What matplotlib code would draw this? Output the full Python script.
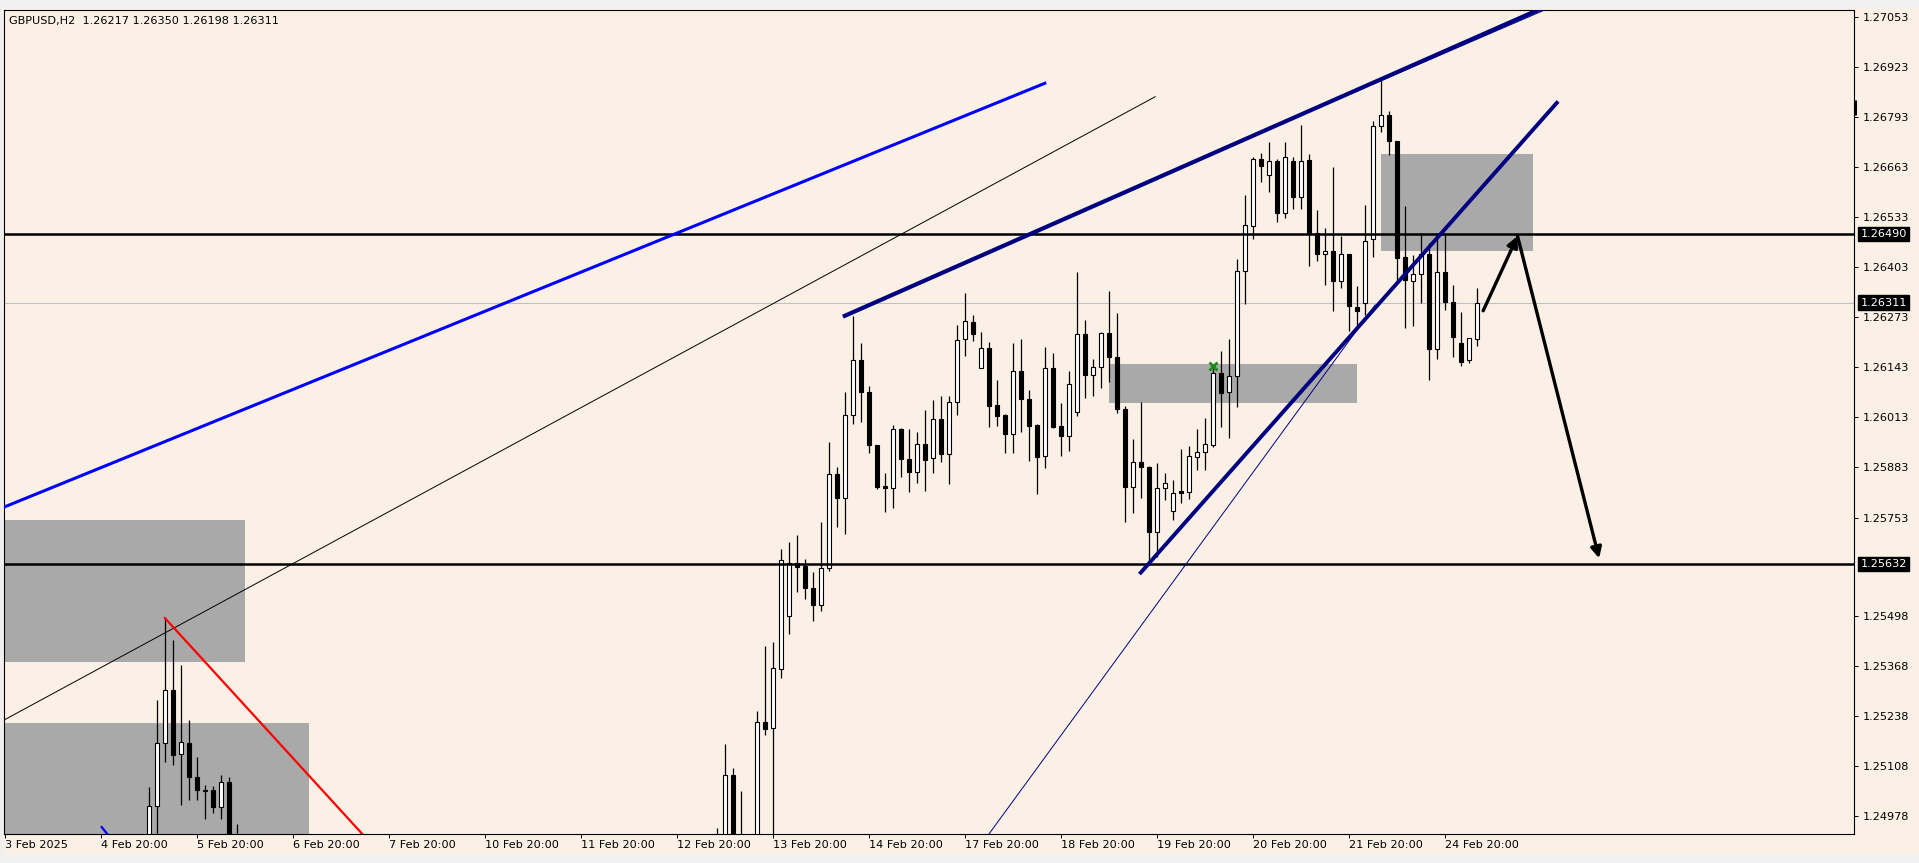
import matplotlib.pyplot as plt
import matplotlib.transforms as mtransforms
from matplotlib.patches import Rectangle

plt.rcParams['font.family'] = ['DejaVu Sans']

# GBPUSD H2, bar index 0 = 3 Feb 20:00 (weekends skipped)
bars = list(range(18, 30)) + [89, 90, 91, 92] + list(range(94, 185))

opens = [1.24900, 1.25004, 1.25167, 1.25305, 1.25138, 1.25167, 1.25080, 1.25046, 1.25044, 1.25002, 1.25065, 1.24905,
         1.24900, 1.24900, 1.25084, 1.24900,
         1.24880, 1.25221, 1.25207, 1.25360, 1.25496, 1.25634, 1.25627, 1.25571, 1.25527, 1.25621,
         1.25865, 1.25803, 1.26019, 1.26161, 1.26080, 1.25942, 1.25834, 1.25829, 1.25982, 1.25904,
         1.25870, 1.25944, 1.25907, 1.26008, 1.25919, 1.26052, 1.26216, 1.26260, 1.26141, 1.26193,
         1.26045, 1.26019, 1.25969, 1.26133, 1.26060, 1.25993, 1.25913, 1.26141, 1.25992, 1.25965,
         1.26026, 1.26230, 1.26123, 1.26145, 1.26232, 1.26169, 1.26034, 1.25833, 1.25898, 1.25884,
         1.25716, 1.25829, 1.25769, 1.25821, 1.25820, 1.25911, 1.25924, 1.25941, 1.26128, 1.26080,
         1.26120, 1.26393, 1.26510, 1.26684, 1.26643, 1.26679, 1.26545, 1.26679, 1.26585, 1.26682,
         1.26491, 1.26437, 1.26445, 1.26368, 1.26437, 1.26299, 1.26309, 1.26476, 1.26770, 1.26798,
         1.26730, 1.26430, 1.26367, 1.26386, 1.26437, 1.26190, 1.26390, 1.26312, 1.26206, 1.26162,
         1.26217]
highs = [1.25054, 1.25279, 1.25492, 1.25435, 1.25370, 1.25227, 1.25132, 1.25059, 1.25056, 1.25085, 1.25080, 1.24957,
         1.24947, 1.25165, 1.25102, 1.25043,
         1.25251, 1.25419, 1.25429, 1.25671, 1.25690, 1.25708, 1.25645, 1.25612, 1.25742, 1.25948,
         1.25885, 1.26078, 1.26277, 1.26206, 1.26095, 1.25942, 1.25869, 1.25993, 1.25986, 1.25982,
         1.25975, 1.26032, 1.26058, 1.26069, 1.26069, 1.26253, 1.26337, 1.26279, 1.26236, 1.26210,
         1.26110, 1.26022, 1.26206, 1.26216, 1.26084, 1.25995, 1.26195, 1.26180, 1.26050, 1.26134,
         1.26392, 1.26266, 1.26166, 1.26235, 1.26341, 1.26284, 1.26043, 1.25956, 1.26052, 1.25888,
         1.25894, 1.25868, 1.25851, 1.25931, 1.25940, 1.25983, 1.26012, 1.26145, 1.26186, 1.26216,
         1.26424, 1.26591, 1.26690, 1.26699, 1.26728, 1.26685, 1.26729, 1.26689, 1.26772, 1.26696,
         1.26552, 1.26504, 1.26663, 1.26484, 1.26438, 1.26354, 1.26565, 1.26783, 1.26889, 1.26809,
         1.26731, 1.26562, 1.26435, 1.26491, 1.26467, 1.26491, 1.26491, 1.26357, 1.26286, 1.26220,
         1.26350]
lows = [1.24880, 1.24925, 1.25119, 1.25109, 1.25007, 1.25020, 1.25020, 1.24970, 1.24986, 1.24970, 1.24880, 1.24850,
        1.24850, 1.24880, 1.24870, 1.24860,
        1.24860, 1.25187, 1.24920, 1.25335, 1.25451, 1.25560, 1.25541, 1.25485, 1.25509, 1.25615,
        1.25728, 1.25709, 1.25995, 1.26002, 1.25921, 1.25826, 1.25768, 1.25779, 1.25859, 1.25820,
        1.25844, 1.25823, 1.25868, 1.25898, 1.25840, 1.26019, 1.26173, 1.26212, 1.26141, 1.25987,
        1.25992, 1.25920, 1.25920, 1.25976, 1.25901, 1.25813, 1.25881, 1.25985, 1.25914, 1.25927,
        1.26018, 1.26063, 1.26069, 1.26089, 1.26106, 1.26024, 1.25742, 1.25766, 1.25803, 1.25630,
        1.25651, 1.25799, 1.25747, 1.25790, 1.25800, 1.25876, 1.25876, 1.25937, 1.25989, 1.25959,
        1.26041, 1.26307, 1.26476, 1.26625, 1.26599, 1.26521, 1.26530, 1.26554, 1.26554, 1.26407,
        1.26419, 1.26357, 1.26290, 1.26348, 1.26237, 1.26253, 1.26279, 1.26429, 1.26755, 1.26695,
        1.26367, 1.26245, 1.26251, 1.26309, 1.26110, 1.26164, 1.26292, 1.26170, 1.26147, 1.26155,
        1.26198]
closes = [1.25004, 1.25167, 1.25305, 1.25136, 1.25169, 1.25080, 1.25046, 1.25043, 1.25002, 1.25067, 1.24900, 1.24890,
          1.24910, 1.25084, 1.24900, 1.24915,
          1.25221, 1.25205, 1.25362, 1.25642, 1.25634, 1.25625, 1.25571, 1.25527, 1.25621, 1.25865,
          1.25803, 1.26019, 1.26161, 1.26080, 1.25942, 1.25833, 1.25829, 1.25982, 1.25904, 1.25870,
          1.25944, 1.25902, 1.26008, 1.25919, 1.26052, 1.26213, 1.26263, 1.26229, 1.26193, 1.26044,
          1.26018, 1.25969, 1.26133, 1.26060, 1.25992, 1.25911, 1.26141, 1.25989, 1.25966, 1.26101,
          1.26230, 1.26123, 1.26145, 1.26232, 1.26169, 1.26034, 1.25833, 1.25898, 1.25885, 1.25716,
          1.25831, 1.25844, 1.25816, 1.25818, 1.25913, 1.25924, 1.25943, 1.26128, 1.26076, 1.26120,
          1.26393, 1.26513, 1.26684, 1.26667, 1.26679, 1.26545, 1.26689, 1.26585, 1.26679, 1.26489,
          1.26437, 1.26445, 1.26368, 1.26437, 1.26303, 1.26290, 1.26472, 1.26770, 1.26798, 1.26730,
          1.26428, 1.26370, 1.26385, 1.26437, 1.26190, 1.26390, 1.26312, 1.26221, 1.26156, 1.26219,
          1.26311]

# price scale
ytick_vals = [1.27053, 1.26923, 1.26793, 1.26663, 1.26533, 1.26403, 1.26273, 1.26143, 1.26013,
              1.25883, 1.25753, 1.25498, 1.25368, 1.25238, 1.25108, 1.24978]
ytick_labels = ['%.5f' % v for v in ytick_vals]

# time scale
xtick_bars = [0, 12, 24, 36, 48, 60, 72, 84, 96, 108, 120, 132, 144, 156, 168, 180]
xtick_labels = ['3 Feb 2025', '4 Feb 20:00', '5 Feb 20:00', '6 Feb 20:00', '7 Feb 20:00',
                '10 Feb 20:00', '11 Feb 20:00', '12 Feb 20:00', '13 Feb 20:00', '14 Feb 20:00',
                '17 Feb 20:00', '18 Feb 20:00', '19 Feb 20:00', '20 Feb 20:00', '21 Feb 20:00',
                '24 Feb 20:00']

# horizontal levels
levels = [1.26490, 1.25632]
bid = 1.26311

# zones (bar from, bar to, price low, price high)
zone_x0 = [-0.3, -0.3, 138.05, 172.0]
zone_x1 = [30.0, 38.0, 169.0, 191.0]
zone_lo = [1.25379, 1.24800, 1.26051, 1.26446]
zone_hi = [1.25747, 1.25220, 1.26152, 1.26697]

# trend lines (bar, price anchors)
blue_x, blue_p = [0, 130.0], [1.25781, 1.26881]
thin_x, thin_p = [-1, 143.8], [1.25217, 1.26846]
chan_top_x, chan_top_p = [105, 195], [1.26277, 1.27102]
chan_top2_x, chan_top2_p = [166, 195], [1.26834, 1.27094]
chan_low_x, chan_low_p = [142, 194], [1.25610, 1.26830]
navy_thin_x, navy_thin_p = [120, 171.3], [1.24845, 1.26305]
red_x, red_p = [20, 46], [1.25492, 1.24901]
blue_small_x, blue_small_p = [12.1, 13.6], [1.24949, 1.24910]

# arrows
arrow1 = ((184.8, 1.26290), (189.1, 1.26484))
arrow2 = ((189.1, 1.26484), (199.3, 1.25647))
mark_x, mark_p = 151, 1.26147

bg = '#faf0e6'
fs = 8.1
fig = plt.figure(figsize=(19.19, 8.63), dpi=100, facecolor=bg)
ax = fig.add_axes([4 / 1919, 29 / 863, 1850 / 1919, 823.5 / 863], facecolor=bg)

# window chrome
fig.patches.append(Rectangle((0, 1 - 8 / 863), 1, 8 / 863, transform=fig.transFigure,
                             facecolor='#f0f0f0', edgecolor='none'))
fig.patches.append(Rectangle((0, 0), 1, 8 / 863, transform=fig.transFigure,
                             facecolor='#f0f0f0', edgecolor='none'))
fig.patches.append(Rectangle((0, 0), 3 / 1919, 1, transform=fig.transFigure,
                             facecolor='#f0f0f0', edgecolor='none'))

for x0, x1, lo, hi in zip(zone_x0, zone_x1, zone_lo, zone_hi):
    ax.add_patch(Rectangle((x0, lo), x1 - x0, hi - lo, facecolor='#a9a9a9', edgecolor='none', zorder=1))

ax.axhline(bid, color='#c0c0c0', lw=0.8, zorder=1.5)

# candles
ax.vlines(bars, lows, highs, color='black', lw=0.9, zorder=3)
for b, o, c in zip(bars, opens, closes):
    fill = 'white' if c >= o else 'black'
    h = max(abs(c - o), 0.00002)
    ax.bar(b, h, bottom=min(o, c), width=0.48, color=fill, edgecolor='black', linewidth=0.8, zorder=4)

for lv in levels:
    ax.axhline(lv, color='black', lw=1.8, zorder=5)

ax.plot(blue_x, blue_p, color='#0000ff', lw=2.2, zorder=6)
ax.plot(thin_x, thin_p, color='black', lw=0.7, zorder=6)
ax.plot(chan_top_x, chan_top_p, color='#000080', lw=3.0, zorder=6)
ax.plot(chan_top2_x, chan_top2_p, color='#000080', lw=0.8, zorder=6)
ax.plot(chan_low_x, chan_low_p, color='#000080', lw=2.8, zorder=6)
ax.plot(navy_thin_x, navy_thin_p, color='#000080', lw=0.7, zorder=6)
ax.plot(red_x, red_p, color='#ff0000', lw=1.6, zorder=6)
ax.plot(blue_small_x, blue_small_p, color='#0000ff', lw=1.6, zorder=6)

for start, tip in (arrow1, arrow2):
    ax.annotate('', xy=tip, xytext=start,
                arrowprops=dict(arrowstyle='-|>', color='black', lw=2.4, mutation_scale=16,
                                shrinkA=0, shrinkB=0), zorder=7)

ax.plot([mark_x], [mark_p], marker='x', color='#1a8a1a', ms=6, mew=2, zorder=7)

ax.set_xlim(-0.1125, 231.16)
ax.set_ylim(1.24931, 1.27070)

ax.yaxis.tick_right()
ax.set_yticks(ytick_vals)
ax.set_yticklabels(ytick_labels)
ax.set_xticks(xtick_bars)
ax.set_xticklabels(xtick_labels, ha='left')
ax.tick_params(axis='y', direction='out', length=3, width=0.72, pad=3, labelsize=fs)
ax.tick_params(axis='x', direction='out', length=3, width=0.72, pad=1.5, labelsize=fs)
for sp in ax.spines.values():
    sp.set_linewidth(0.8)
    sp.set_color('black')

# highlighted price labels
trans = mtransforms.blended_transform_factory(ax.transAxes, ax.transData)
for v in levels + [bid]:
    ax.text(1.0035, v, '%.5f' % v, transform=trans, color='white', fontsize=fs, va='center', ha='left',
            bbox=dict(boxstyle='square,pad=0.2', fc='black', ec='black'), clip_on=False, zorder=10)
ax.plot([1.0008, 1.0008], [1.26798, 1.26837], transform=trans, color='black', lw=2.2,
        clip_on=False, solid_capstyle='butt')

ax.text(0.0025, 0.987, 'GBPUSD,H2  %.5f %.5f %.5f %.5f' % (opens[-1], highs[-1], lows[-1], closes[-1]),
        transform=ax.transAxes, fontsize=fs, va='center', ha='left', color='black')

fig.savefig('out.png', dpi=100, facecolor=bg)
